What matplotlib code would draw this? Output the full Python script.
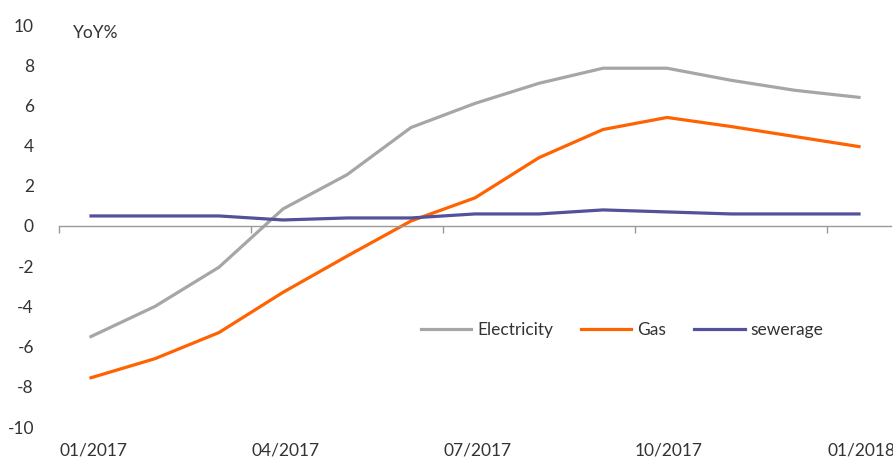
import matplotlib
matplotlib.use("Agg")
import matplotlib.pyplot as plt
from matplotlib.transforms import blended_transform_factory

plt.rcParams['font.family'] = ['Lato', 'DejaVu Sans']
plt.rcParams['axes.unicode_minus'] = False

months = ["01/2017", "02/2017", "03/2017", "04/2017", "05/2017", "06/2017", "07/2017",
          "08/2017", "09/2017", "10/2017", "11/2017", "12/2017", "01/2018"]
electricity = [-5.5, -4.0, -2.05, 0.85, 2.55, 4.9, 6.1, 7.1, 7.85, 7.85, 7.25, 6.75, 6.4]
gas = [-7.55, -6.6, -5.3, -3.3, -1.5, 0.25, 1.4, 3.4, 4.8, 5.4, 4.95, 4.45, 3.95]
sewerage = [0.5, 0.5, 0.5, 0.3, 0.4, 0.4, 0.6, 0.6, 0.8, 0.7, 0.6, 0.6, 0.6]
labelled_months = ["01/2017", "04/2017", "07/2017", "10/2017", "01/2018"]

C_ELEC = "#A6A6A6"
C_GAS = "#FF6200"
C_SEW = "#525199"
TXT = "#333333"
AXC = "#9A9A9A"

fig = plt.figure(figsize=(8.93, 4.59), dpi=100)
ax = fig.add_axes([59 / 893, 32 / 459, 832 / 893, 402 / 459])

x = list(range(len(months)))
ax.plot(x, electricity, color=C_ELEC, lw=2.3, label="Electricity", solid_joinstyle="round")
ax.plot(x, gas, color=C_GAS, lw=2.3, label="Gas", solid_joinstyle="round")
ax.plot(x, sewerage, color=C_SEW, lw=2.3, label="sewerage", solid_joinstyle="round")

ax.set_xlim(-0.5, len(months) - 0.5)
ax.set_ylim(-10, 10)

for s in ["top", "right", "left"]:
    ax.spines[s].set_visible(False)
ax.spines["bottom"].set_position(("data", 0))
ax.spines["bottom"].set_color(AXC)
ax.spines["bottom"].set_linewidth(1.0)

# boundary ticks every quarter, labels placed at the bottom of the plot
idx = [months.index(m) for m in labelled_months]
ax.set_xticks([i - 0.5 for i in idx])
ax.set_xticklabels([])
ax.tick_params(axis="x", direction="out", length=5, width=1, color=AXC)

trans = blended_transform_factory(ax.transData, ax.transAxes)
for i, lab in zip(idx, labelled_months):
    ax.text(i - 0.5, -0.058, lab, transform=trans, ha="left", va="center",
            fontsize=12.5, color=TXT)

ax.set_yticks(range(-10, 11, 2))
ax.tick_params(axis="y", length=0, pad=18, labelsize=12.5, labelcolor=TXT)

fig.text(73 / 893, 1 - 33 / 459, "YoY%", fontsize=12.5, color=TXT, va="center", ha="left")

ax.legend(loc="center left", bbox_to_anchor=(0.435, 0.241), ncol=3, frameon=False,
          fontsize=12.5, handlelength=2.9, handletextpad=0.35, columnspacing=1.6,
          labelcolor=TXT, borderaxespad=0, borderpad=0)

fig.savefig("out.png", dpi=100)
